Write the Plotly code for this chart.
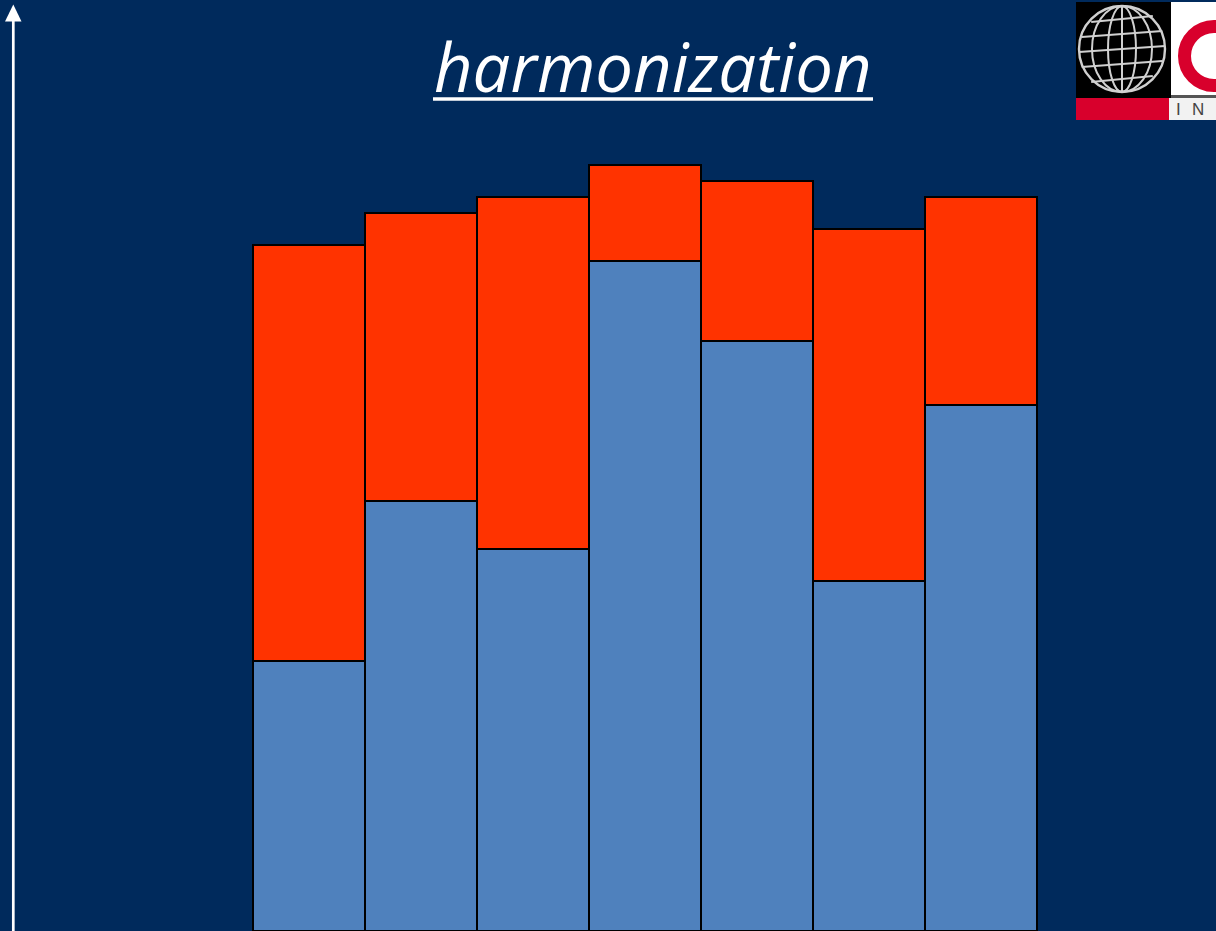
import math
import plotly.graph_objects as go

# ---- data (arbitrary units = pixels of height) ----
categories = ["A", "B", "C", "D", "E", "F", "G"]
base_values = [270, 430, 382, 670, 590, 350, 526]      # blue lower segment
extra_values = [416, 288, 352, 96, 160, 352, 208]      # red upper segment
title_text = "harmonization"

W, H = 1216, 931
BG = "#002A5C"
BLUE = "#4F81BD"
RED = "#FF3300"

fig = go.Figure()
fig.add_trace(go.Bar(x=categories, y=base_values, marker=dict(color=BLUE, line=dict(color="black", width=2)),
                     showlegend=False, hoverinfo="skip"))
fig.add_trace(go.Bar(x=categories, y=extra_values, marker=dict(color=RED, line=dict(color="black", width=2)),
                     showlegend=False, hoverinfo="skip"))

# x range so that bars span pixels 253..1037 (each 112 px wide)
bw = 112.0
x0 = -0.5 - 253 / bw
x1 = -0.5 + (W - 253) / bw

def px(x):
    return x / W

def py(y):
    return 1 - y / H

shapes = []
# vertical axis arrow
shapes.append(dict(type="line", xref="paper", yref="paper", x0=px(13.3), x1=px(13.3), y0=py(H + 5), y1=py(19),
                   line=dict(color="white", width=2.7)))
shapes.append(dict(type="path", xref="paper", yref="paper",
                   path=f"M {px(5)} {py(21.5)} L {px(21.5)} {py(21.5)} L {px(13.3)} {py(4.5)} Z",
                   fillcolor="white", line=dict(width=0)))

# title underline
shapes.append(dict(type="line", xref="paper", yref="paper", x0=px(433), x1=px(873), y0=py(99), y1=py(99),
                   line=dict(color="white", width=3.5)))

# ---- logo (top right) ----
def rect(xa, ya, xb, yb, color):
    return dict(type="rect", xref="paper", yref="paper", x0=px(xa), x1=px(xb), y0=py(yb), y1=py(ya),
                fillcolor=color, line=dict(width=0), layer="above")

shapes.append(rect(1076, 2, 1171, 98, "black"))
shapes.append(rect(1171, 2, 1216, 98, "white"))
shapes.append(rect(1076, 98, 1169, 120, "#D8002C"))
shapes.append(rect(1169, 98, 1216, 120, "#F2F2F2"))
shapes.append(rect(1171, 95, 1216, 98, "#555555"))
# red C
shapes.append(dict(type="circle", xref="paper", yref="paper", x0=px(1184.5), x1=px(1243.5), y0=py(85.5),
                   y1=py(26.5), line=dict(color="#D8002C", width=13), layer="above"))
# globe
gx, gy, gr = 1122, 49, 43
globe_col = "#D0D0D0"
shapes.append(dict(type="circle", xref="paper", yref="paper", x0=px(gx - gr), x1=px(gx + gr), y0=py(gy + gr),
                   y1=py(gy - gr), line=dict(color=globe_col, width=2.4), layer="above"))
for rx in (30, 14):
    shapes.append(dict(type="circle", xref="paper", yref="paper", x0=px(gx - rx), x1=px(gx + rx), y0=py(gy + gr),
                       y1=py(gy - gr), line=dict(color=globe_col, width=2), layer="above"))
shapes.append(dict(type="line", xref="paper", yref="paper", x0=px(gx), x1=px(gx), y0=py(gy + gr), y1=py(gy - gr),
                   line=dict(color=globe_col, width=2), layer="above"))
for dy in (-30, -15, 0, 15, 30):
    half = math.sqrt(max(gr * gr - dy * dy, 0))
    shapes.append(dict(type="line", xref="paper", yref="paper", x0=px(gx - half), x1=px(gx + half),
                       y0=py(gy + dy + 3), y1=py(gy + dy - 3), line=dict(color=globe_col, width=2), layer="above"))

annotations = [
    dict(text=f"<i>{title_text}</i>", xref="paper", yref="paper", x=px(653), y=py(66), showarrow=False,
         xanchor="center", yanchor="middle", font=dict(family="Open Sans", size=67, color="white")),
]
for letter, lx in (("I", 1178), ("N", 1198)):
    annotations.append(dict(text=letter, xref="paper", yref="paper", x=px(lx), y=py(109), showarrow=False,
                            xanchor="center", yanchor="middle",
                            font=dict(family="Liberation Sans", size=17, color="#444444")))

fig.update_layout(
    width=W, height=H, barmode="stack", bargap=0,
    paper_bgcolor=BG, plot_bgcolor=BG,
    margin=dict(l=0, r=0, t=0, b=0),
    xaxis=dict(visible=False, range=[x0, x1], fixedrange=True),
    yaxis=dict(visible=False, range=[0, H], fixedrange=True),
    shapes=shapes, annotations=annotations,
)
fig.write_html("out.html", config={"displayModeBar": False, "staticPlot": True},
               post_script="document.body.style.margin='0';document.body.style.overflow='hidden';"
                           "document.body.style.background='#002A5C';")
